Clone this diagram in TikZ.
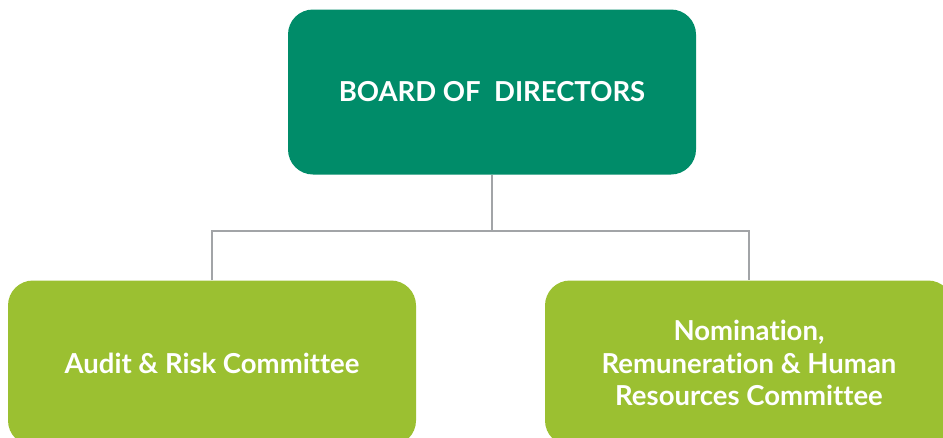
\documentclass[tikz,border=0pt]{standalone}
\usepackage{fontspec}
\setmainfont{Lato}[Ligatures=NoCommon]

\definecolor{boardgreen}{HTML}{008C69}
\definecolor{leafgreen}{HTML}{9BC031}
\definecolor{linegray}{HTML}{A2A4A7}

\begin{document}
\begin{tikzpicture}[x=1pt, y=-1pt,
  box/.style={rounded corners=25pt, minimum width=408pt, minimum height=165pt,
    inner sep=0pt, text=white, align=center,
    font=\bfseries\fontsize{27.5}{32.5}\selectfont},
  link/.style={draw=linegray, line width=2pt}]

  % page frame, the lower boxes run off the bottom edge
  \useasboundingbox (0,0) rectangle (943,437);
  \clip (0,0) rectangle (943,437);

  % boxes
  \node[box, fill=boardgreen] (board) at (492,92) {BOARD OF\ \ DIRECTORS};
  \node[box, fill=leafgreen] (audit) at (212,363) {Audit \& Risk Committee};
  \node[box, fill=leafgreen] (nomination) at (749,363)
    {Nomination,\\Remuneration \& Human\\Resources Committee};

  % connectors
  \coordinate (split) at (492,231);
  \draw[link] (board.south) -- (split);
  \draw[link] (audit.north) |- (split) -| (nomination.north);

\end{tikzpicture}
\end{document}
